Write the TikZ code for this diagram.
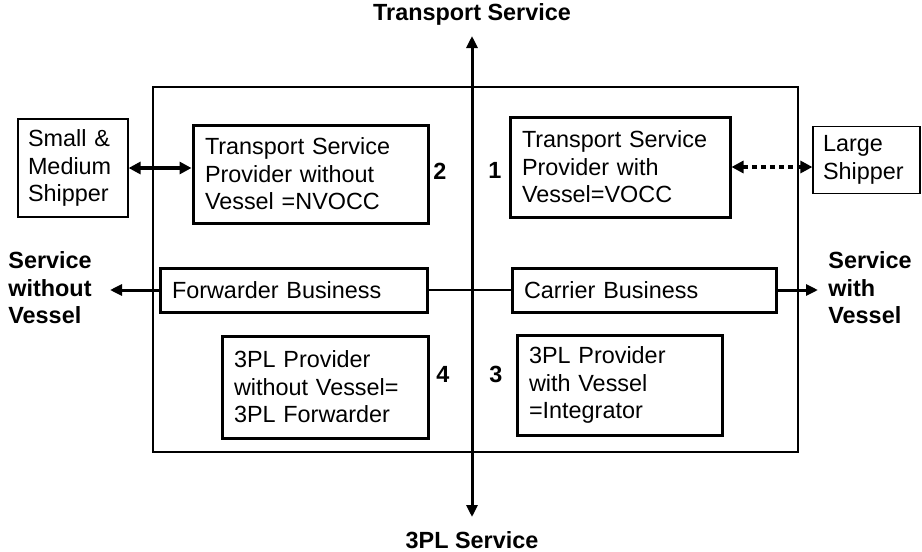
\documentclass[tikz,border=0pt]{standalone}
\usepackage{fontspec}
\setmainfont{Liberation Sans}
\usetikzlibrary{arrows.meta, positioning}
\tikzset{
  quadbox/.style={rectangle, draw=black, line width=1.5pt, align=left,
    inner xsep=6pt, inner ysep=0pt, font=\fontsize{11.7}{13.8}\selectfont},
  shipbox/.style={rectangle, draw=black, line width=0.6pt, align=left,
    inner xsep=5pt, inner ysep=0pt, font=\fontsize{11.7}{13.8}\selectfont},
  axislabel/.style={align=left, inner sep=0pt, font=\bfseries\fontsize{11.7}{13.8}\selectfont},
  quadnum/.style={inner sep=0pt, font=\bfseries\fontsize{11.7}{13.8}\selectfont},
  axisline/.style={{Triangle[length=6pt,width=5.5pt]}-{Triangle[length=6pt,width=5.5pt]}, line width=1.5pt},
  arrow/.style={-{Triangle[length=6pt,width=5.5pt]}, line width=1.5pt},
  biarrow/.style={{Triangle[length=6pt,width=6pt]}-{Triangle[length=6pt,width=6pt]}, line width=2pt},
  dotarrow/.style={{Triangle[length=6pt,width=6pt]}-{Triangle[length=6pt,width=6pt]}, line width=2pt, dash pattern=on 2.5pt off 2pt},
  line/.style={line width=1pt}
}
\begin{document}
\begin{tikzpicture}[x=0.5pt, y=-0.5pt]
  \useasboundingbox (0,0) rectangle (922,552);
  % frame
  \draw[line width=0.6pt] (153,87) rectangle (798,452);

  % axes
  \coordinate (ntip) at (472,36);
  \coordinate (stip) at (472,517);
  \coordinate (wtip) at (110,290);
  \coordinate (etip) at (818,290);
  \node[axislabel, align=center] (tsl) at (472,14) {Transport Service};
  \node[axislabel, align=center] (pll) at (472,540) {3PL Service};
  \node[axislabel, anchor=west] (nov) at (8,288) {Service\\without\\Vessel};
  \node[axislabel, anchor=west] (wv) at (828,288) {Service\\with\\Vessel};
  \draw[axisline] (stip) -- (ntip);

  % quadrants
  \node[quadbox, text width=105.5pt, minimum height=49pt] (nvocc) at (310.5,174)
    {Transport Service\\Provider without\\Vessel =NVOCC};
  \node[quadbox, text width=98pt, minimum height=50pt] (vocc) at (620,167)
    {Transport Service\\Provider with\\Vessel=VOCC};
  \node[quadbox, text width=91pt, minimum height=51pt] (fwd3pl) at (325,387)
    {3PL Provider\\without Vessel=\\3PL Forwarder};
  \node[quadbox, text width=90.5pt, minimum height=50pt] (integ) at (619.5,385)
    {3PL Provider\\with Vessel\\=Integrator};
  \node[quadbox, text width=121.5pt, minimum height=22pt] (fwd) at (293.5,290)
    {Forwarder Business};
  \node[quadbox, text width=120pt, minimum height=22pt] (car) at (644,290)
    {Carrier Business};

  \node[quadnum] (n2) at (440,171) {2};
  \node[quadnum] (n1) at (495,170) {1};
  \node[quadnum] (n4) at (443,374) {4};
  \node[quadnum] (n3) at (496,374) {3};

  % shippers
  \node[shipbox, text width=45pt, minimum height=49pt] (small) at (73,168)
    {Small \&\\Medium\\Shipper};
  \node[shipbox, text width=43.5pt, minimum height=33.5pt] (large) at (866.5,160)
    {Large\\Shipper};

  \draw[line] (fwd) -- (car);
  \draw[arrow] (fwd) -- (wtip);
  \draw[arrow] (car) -- (etip);
  \draw[biarrow] (small.east) -- (small.east -| nvocc.west);
  \draw[dotarrow] (vocc.east) -- (vocc.east -| large.west);
\end{tikzpicture}
\end{document}
